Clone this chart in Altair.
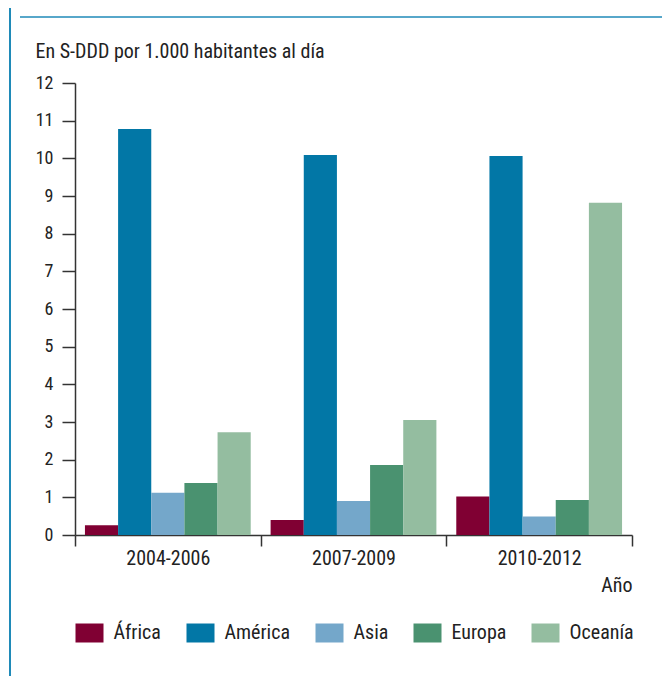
import altair as alt
import pandas as pd

periods = ["2004-2006", "2007-2009", "2010-2012"]
regions = ["África", "América", "Asia", "Europa", "Oceanía"]
africa = [0.26, 0.40, 1.02]
america = [10.78, 10.09, 10.06]
asia = [1.12, 0.90, 0.49]
europa = [1.38, 1.86, 0.93]
oceania = [2.73, 3.05, 8.82]
colors = ["#800033", "#0277A6", "#74A7CA", "#4A9270", "#94BDA0"]
y_ticks = list(range(0, 13))

series = [africa, america, asia, europa, oceania]
rows = []
for r, vals in zip(regions, series):
    for p, v in zip(periods, vals):
        rows.append({"Periodo": p, "Región": r, "Valor": v})
df = pd.DataFrame(rows)

FONT = "Roboto Condensed"
DARK = "#333333"
TXT = "#222222"
W, H = 557, 452

bars = alt.Chart(df).mark_bar().encode(
    x=alt.X("Periodo:N", sort=periods,
            scale=alt.Scale(paddingInner=0, paddingOuter=0),
            axis=alt.Axis(title="Año", tickBand="extent", labelAngle=0,
                          labelFontSize=20, labelColor=TXT, labelPadding=2,
                          tickSize=11, tickColor=DARK, tickWidth=1.5,
                          domainColor=DARK, domainWidth=1.5,
                          titleFontSize=20, titleFontWeight="normal", titleColor=TXT,
                          titleAnchor="end", titleAlign="right", titleX=W, titleY=56,
                          titleBaseline="alphabetic")),
    xOffset=alt.XOffset("Región:N", sort=regions,
                        scale=alt.Scale(paddingOuter=0.3, paddingInner=0)),
    y=alt.Y("Valor:Q", scale=alt.Scale(domain=[0, 12], nice=False),
            axis=alt.Axis(values=y_ticks, grid=False, title="En S-DDD por 1.000 habitantes al día",
                          labelFontSize=18, labelColor=TXT, labelPadding=9,
                          tickSize=13, tickColor=DARK, tickWidth=1.5,
                          domainColor=DARK, domainWidth=1.5,
                          titleAngle=0, titleAlign="left", titleBaseline="alphabetic",
                          titleX=-40, titleY=-26, titleFontSize=20, titleFontWeight="normal",
                          titleColor=TXT)),
    color=alt.Color("Región:N", sort=regions,
                    scale=alt.Scale(domain=regions, range=colors),
                    legend=alt.Legend(title=None, orient="none", direction="horizontal",
                                      legendX=4.5, legendY=540,
                                      symbolType="M-1.474,-1L1.474,-1L1.474,1L-1.474,1Z",
                                      symbolSize=361, symbolStrokeWidth=0, symbolOpacity=1,
                                      labelFontSize=20, labelColor=TXT, labelOffset=14,
                                      columnPadding=24, padding=0)),
)

dummy = pd.DataFrame({"a": [0]})
left_line = alt.Chart(dummy).mark_rule(color="#1f8ab8", strokeWidth=2).encode(
    x=alt.value(-65), y=alt.value(-80), y2=alt.value(600))
top_line = alt.Chart(dummy).mark_rule(color="#1f8ab8", strokeWidth=1.5).encode(
    x=alt.value(-55), x2=alt.value(600), y=alt.value(-66))

chart = alt.layer(bars, left_line, top_line).properties(
    width=W, height=H,
    autosize=alt.AutoSizeParams(type="none"),
    padding={"left": 67, "top": 75, "right": 30, "bottom": 141},
).configure(font=FONT).configure_view(stroke=None)

chart.save("out.html", embed_options={"renderer": "svg", "actions": False})
